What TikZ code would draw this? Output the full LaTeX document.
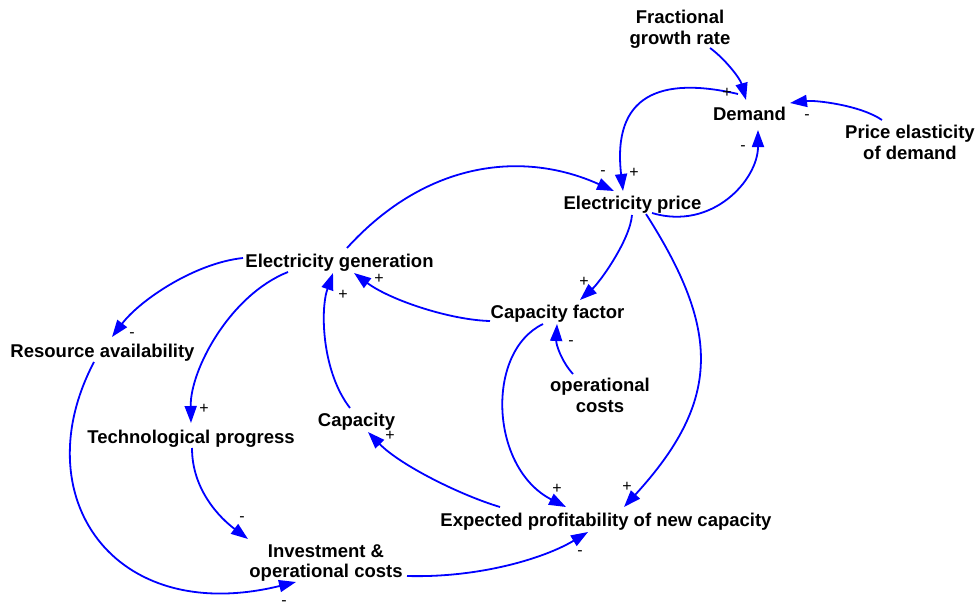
\documentclass[tikz,border=0pt]{standalone}
\usepackage{fontspec}
\setmainfont{Liberation Sans}
\usetikzlibrary{arrows.meta}
\begin{document}
\begin{tikzpicture}[x=1pt,y=-1pt,
  lbl/.style={font=\fontsize{18.5}{20.5}\selectfont\bfseries, inner sep=2pt, outer sep=0pt, text=black},
  sgn/.style={font=\fontsize{16}{16}\selectfont, inner sep=0pt, outer sep=0pt, text=black},
  arr/.style={draw=blue, line width=1.8pt, -{Triangle[length=17pt,width=12pt]}}]
\useasboundingbox (0,0) rectangle (979,607);

% variables
\node[lbl, align=center, anchor=north] (fgr) at (680,8.5) {Fractional\\growth rate};
\node[lbl, anchor=base] (dem) at (749.5,121) {Demand};
\node[lbl, align=center, anchor=north] (ped) at (910,123.5) {Price elasticity\\of demand};
\node[lbl, anchor=base] (ep) at (632.5,209) {Electricity price};
\node[lbl, anchor=base] (eg) at (339.5,267) {Electricity generation};
\node[lbl, anchor=base] (cf) at (557.5,318) {Capacity factor};
\node[lbl, anchor=base] (ra) at (102.5,357) {Resource availability};
\node[lbl, align=center, anchor=north] (oc) at (600,376.5) {operational\\costs};
\node[lbl, anchor=base] (cap) at (356.5,426) {Capacity};
\node[lbl, anchor=base] (tp) at (191,443) {Technological progress};
\node[lbl, anchor=base] (epnc) at (606,526) {Expected profitability of new capacity};
\node[lbl, align=center, anchor=north] (inv) at (326,542.5) {Investment \&\\operational costs};

% connectors
\draw[arr] ([shift={(30,39.5)}]fgr.north) .. controls (724,58) and (740,78) .. ([shift={(-3.5,-21)}]dem.base);
\draw[arr] ([shift={(-11.5,-27)}]dem.base) .. controls (660,76) and (612,95) .. ([shift={(-9.5,-18)}]ep.base);
\draw[arr] ([shift={(19.5,4)}]ep.base) .. controls (712,231) and (758,180) .. ([shift={(8.5,9)}]dem.base);
\draw[arr] ([shift={(-28,-3.5)}]ped.north) .. controls (860,105) and (815,100) .. ([shift={(40.5,-18)}]dem.base);
\draw[arr] ([shift={(7.5,-19)}]eg.base) .. controls (427,160) and (524,150.5) .. ([shift={(-18.5,-18)}]ep.base);
\draw[arr] ([shift={(-0.5,6)}]ep.base) .. controls (630,240) and (600,282) .. ([shift={(22.5,-18)}]cf.base);
\draw[arr] ([shift={(13.5,5)}]ep.base) .. controls (720,330) and (722,400) .. ([shift={(18,-19)}]epnc.base);
\draw[arr] ([shift={(-67.5,3)}]cf.base) .. controls (450,320) and (390,300) .. ([shift={(14.5,6)}]eg.base);
\draw[arr] ([shift={(-6.5,-18)}]cap.base) .. controls (322,372) and (320,310) .. ([shift={(-6.5,6)}]eg.base);
\draw[arr] ([shift={(-96.5,-9)}]eg.base) .. controls (195,263) and (140,300) .. ([shift={(9.5,-20)}]ra.base);
\draw[arr] ([shift={(-51.5,5)}]eg.base) .. controls (230,295) and (190,370) .. ([shift={(0,-20)}]tp.base);
\draw[arr] ([shift={(-14.5,6)}]cf.base) .. controls (485,352) and (490,468) .. ([shift={(-40,-19)}]epnc.base);
\draw[arr] ([shift={(-27,-2.5)}]oc.north) .. controls (562,362) and (556,345) .. ([shift={(-0.5,6)}]cf.base);
\draw[arr] ([shift={(-106,-19)}]epnc.base) .. controls (460,495) and (400,465) .. ([shift={(11.5,6)}]cap.base);
\draw[arr] ([shift={(-8.5,5)}]ra.base) .. controls (24,495) and (112,627) .. ([shift={(-30,39.5)}]inv.north);
\draw[arr] ([shift={(1,5)}]tp.base) .. controls (192,490) and (220,518) .. ([shift={(-78,-3.5)}]inv.north);
\draw[arr] ([shift={(81,33.5)}]inv.north) .. controls (480,578) and (545,558) .. ([shift={(-18,6)}]epnc.base);

% polarity signs
\node[sgn] (s1) at (727,93) {+};
\node[sgn] (s2) at (634,173) {+};
\node[sgn] (s3) at (743,148) {-};
\node[sgn] (s4) at (807,117) {-};
\node[sgn] (s5) at (603,173) {-};
\node[sgn] (s6) at (584,282) {+};
\node[sgn] (s7) at (627,487) {+};
\node[sgn] (s8) at (379,279) {+};
\node[sgn] (s9) at (343,295) {+};
\node[sgn] (s10) at (132,335) {-};
\node[sgn] (s11) at (204,409) {+};
\node[sgn] (s12) at (557,489) {+};
\node[sgn] (s13) at (571,343) {-};
\node[sgn] (s14) at (390,436) {+};
\node[sgn] (s15) at (284,603) {-};
\node[sgn] (s16) at (242,519) {-};
\node[sgn] (s17) at (580,553) {-};
\end{tikzpicture}
\end{document}
